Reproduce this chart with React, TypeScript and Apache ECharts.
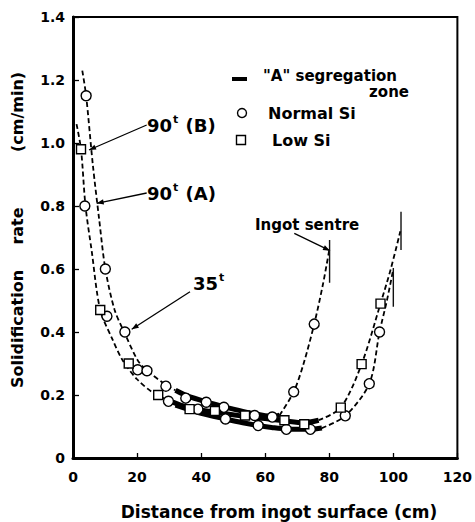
import React, { useEffect, useRef } from "react";
import * as echarts from "echarts";

const FONT = "DejaVu Sans";

// Axis ticks
const xMin = 0, xMax = 120, xStep = 20;
const yMin = 0, yMax = 1.4, yStep = 0.2;

// Measured points: Normal Si (circles)
const normalSi: [number, number][] = [
  [4.1, 1.15], [3.7, 0.80], [10.1, 0.60], [10.6, 0.45], [16.2, 0.40],
  [20.2, 0.28], [23.1, 0.277], [29.0, 0.228], [29.8, 0.18], [35.2, 0.19],
  [39.0, 0.155], [41.6, 0.177], [47.1, 0.161], [47.6, 0.124], [56.7, 0.135],
  [57.8, 0.103], [62.2, 0.130], [66.6, 0.091], [74.1, 0.091], [68.9, 0.21],
  [75.3, 0.425], [85.0, 0.134], [92.5, 0.236], [95.7, 0.40],
];

// Measured points: Low Si (squares)
const lowSi: [number, number][] = [
  [2.5, 0.98], [8.5, 0.47], [17.4, 0.30], [26.6, 0.20], [36.4, 0.155],
  [44.3, 0.149], [53.7, 0.135], [66.0, 0.12], [72.2, 0.107], [83.6, 0.16],
  [90.1, 0.298], [96.0, 0.49],
];

// 35 t ingot curve
const curve35Left: [number, number][] = [
  [2.9, 1.23], [4.1, 1.15], [6.2, 0.93], [8.2, 0.755], [10.1, 0.60],
  [13.0, 0.47], [16.2, 0.395], [20.2, 0.31], [23.1, 0.278], [29.0, 0.232], [32.0, 0.215],
];
const curve35Band: [number, number][] = [
  [32.0, 0.215], [35.5, 0.198], [41.6, 0.178], [47.0, 0.163], [53.0, 0.148],
  [58.0, 0.138], [62.5, 0.132], [64.5, 0.136],
];
const curve35Right: [number, number][] = [
  [64.5, 0.136], [68.9, 0.21], [72.0, 0.30], [75.3, 0.425], [78.0, 0.55], [80.0, 0.66],
];

// 90 t (B) ingot curve
const curveBLeft: [number, number][] = [
  [1.1, 1.06], [2.5, 0.98], [3.9, 0.80], [5.8, 0.66], [8.5, 0.47],
  [12.4, 0.375], [15.5, 0.31], [20.0, 0.25], [25.3, 0.205], [30.0, 0.182],
];
const curveBBand: [number, number][] = [
  [30.0, 0.182], [36.0, 0.16], [44.0, 0.146], [53.0, 0.133], [60.0, 0.125],
  [66.0, 0.118], [72.0, 0.112], [76.7, 0.12],
];
const curveBRight: [number, number][] = [
  [76.7, 0.12], [83.6, 0.16], [90.1, 0.298], [96.0, 0.49], [99.2, 0.60], [102.2, 0.72],
];

// 90 t (A) ingot curve
const curveABand: [number, number][] = [
  [32.0, 0.168], [40.0, 0.142], [47.6, 0.124], [53.0, 0.112], [57.8, 0.103],
  [62.0, 0.097], [66.6, 0.092], [74.1, 0.091], [77.7, 0.095],
];
const curveARight: [number, number][] = [
  [77.7, 0.095], [85.0, 0.134], [92.5, 0.236], [95.7, 0.40], [98.0, 0.50], [100.0, 0.60],
];

// Ingot centre markers
const centre35: [number, number][] = [[80.1, 0.556], [80.1, 0.692]];
const centreA: [number, number][] = [[100.0, 0.48], [100.0, 0.603]];
const centreB: [number, number][] = [[102.4, 0.66], [102.4, 0.782]];

function arrowHead(x0: number, y0: number, x1: number, y1: number, len = 7, w = 2.6) {
  const dx = x1 - x0, dy = y1 - y0;
  const d = Math.hypot(dx, dy);
  const ux = dx / d, uy = dy / d;
  const px = -uy, py = ux;
  return {
    type: "polygon",
    shape: {
      points: [
        [x1, y1],
        [x1 - ux * len + px * w, y1 - uy * len + py * w],
        [x1 - ux * len - px * w, y1 - uy * len - py * w],
      ],
    },
    style: { fill: "#000" },
  };
}

function leader(x0: number, y0: number, x1: number, y1: number) {
  return [
    { type: "line", shape: { x1: x0, y1: y0, x2: x1, y2: y1 }, style: { stroke: "#000", lineWidth: 1.3 } },
    arrowHead(x0, y0, x1, y1),
  ];
}

const dashStyle = { type: [5, 3] as any, width: 1.8, color: "#000" };
const bandStyle = { type: "solid" as any, width: 5, color: "#000" };
const centreStyle = { type: "solid" as any, width: 1.4, color: "#111" };

function lineSeries(data: [number, number][], style: any, smooth = 0.3) {
  return {
    type: "line",
    data,
    symbol: "none",
    smooth,
    lineStyle: style,
    z: 2,
    silent: true,
  };
}

const boldText = (text: string, x: number, y: number, size: number, align = "left", extra: any = {}) => ({
  type: "text",
  x,
  y,
  ...extra,
  style: {
    text,
    fontFamily: FONT,
    fontWeight: "bold",
    fontSize: size,
    fill: "#000",
    align,
    verticalAlign: "middle",
  },
});

const supText = (base: string, rest: string, x: number, y: number) => ({
  type: "text",
  x,
  y,
  style: {
    text: `{n|${base}}{s|t}{n|${rest}}`,
    fontFamily: FONT,
    fill: "#000",
    align: "left",
    verticalAlign: "middle",
    rich: {
      n: { fontFamily: FONT, fontWeight: "bold", fontSize: 18, fill: "#000" },
      s: { fontFamily: FONT, fontWeight: "bold", fontSize: 11, fill: "#000", padding: [0, 1, 11, 1] },
    },
  },
});

export default function App() {
  const ref = useRef<HTMLDivElement>(null);

  useEffect(() => {
    document.body.style.margin = "0";
    if (!ref.current) return;
    const chart = echarts.init(ref.current, undefined, { renderer: "svg" });

    const markerStyle = { color: "#fff", borderColor: "#000", borderWidth: 1.4, opacity: 1 };

    const option: any = {
      animation: false,
      backgroundColor: "#fff",
      grid: {
        left: 73,
        right: 17,
        top: 17,
        bottom: 64,
        show: true,
        borderColor: "#000",
        borderWidth: 2,
        containLabel: false,
      },
      xAxis: {
        type: "value",
        min: xMin,
        max: xMax,
        interval: xStep,
        axisLine: { show: true, onZero: false, lineStyle: { color: "#000", width: 3 } },
        axisTick: { show: true, inside: true, length: 5, lineStyle: { color: "#000", width: 1.3 } },
        axisLabel: {
          color: "#000",
          fontFamily: FONT,
          fontWeight: "bold",
          fontSize: 14,
          margin: 12,
        },
        splitLine: { show: false },
      },
      yAxis: {
        type: "value",
        min: yMin,
        max: yMax,
        interval: yStep,
        axisLine: { show: true, onZero: false, lineStyle: { color: "#000", width: 3 } },
        axisTick: { show: true, inside: true, length: 6, lineStyle: { color: "#000", width: 1.3 } },
        axisLabel: {
          color: "#000",
          fontFamily: FONT,
          fontWeight: "bold",
          fontSize: 14,
          margin: 8,
          formatter: (v: number) => (v === 0 ? "0" : v.toFixed(1)),
        },
        splitLine: { show: false },
      },
      series: [
        lineSeries(curve35Left, dashStyle),
        lineSeries(curve35Band, bandStyle),
        lineSeries(curve35Right, dashStyle),
        lineSeries(curveBLeft, dashStyle),
        lineSeries(curveBBand, bandStyle),
        lineSeries(curveBRight, dashStyle),
        lineSeries(curveABand, bandStyle),
        lineSeries(curveARight, dashStyle),
        lineSeries(centre35, centreStyle, 0),
        lineSeries(centreA, centreStyle, 0),
        lineSeries(centreB, centreStyle, 0),
        {
          name: "Normal Si",
          type: "scatter",
          data: normalSi,
          symbol: "circle",
          symbolSize: 10,
          itemStyle: markerStyle,
          z: 5,
        },
        {
          name: "Low Si",
          type: "scatter",
          data: lowSi,
          symbol: "rect",
          symbolSize: 9,
          itemStyle: markerStyle,
          z: 5,
        },
      ],
      graphic: [
        // Legend
        { type: "rect", shape: { x: 232, y: 77, width: 15, height: 4 }, style: { fill: "#000" } },
        boldText('"A" segregation', 263, 76, 15),
        boldText("zone", 409, 92, 15, "right"),
        { type: "circle", shape: { cx: 242, cy: 113, r: 4.5 }, style: { fill: "#fff", stroke: "#000", lineWidth: 1.4 } },
        boldText("Normal Si", 268, 113, 16),
        { type: "rect", shape: { x: 236.5, y: 135.5, width: 9, height: 9 }, style: { fill: "#fff", stroke: "#000", lineWidth: 1.4 } },
        boldText("Low Si", 272, 140, 16),
        // Annotations
        supText("90", " (B)", 147, 125),
        ...leader(146.7, 125, 89, 150),
        supText("90", " (A)", 147, 193),
        ...leader(146.7, 193, 96.7, 203.3),
        supText("35", "", 193, 283),
        ...leader(190, 291.7, 131.7, 329.3),
        boldText("Ingot sentre", 255, 225, 15),
        ...leader(294.3, 233.3, 330, 250.7),
        // Axis titles
        boldText("Distance from ingot surface (cm)", 279, 512, 17, "center"),
        boldText("Solidification", 17, 329, 16, "center", { rotation: Math.PI / 2 }),
        boldText("rate", 17, 226, 16, "center", { rotation: Math.PI / 2 }),
        boldText("(cm/min)", 17, 112, 16, "center", { rotation: Math.PI / 2 }),
      ],
    };

    chart.setOption(option);
    return () => chart.dispose();
  }, []);

  return <div ref={ref} style={{ width: 475, height: 522 }} />;
}
